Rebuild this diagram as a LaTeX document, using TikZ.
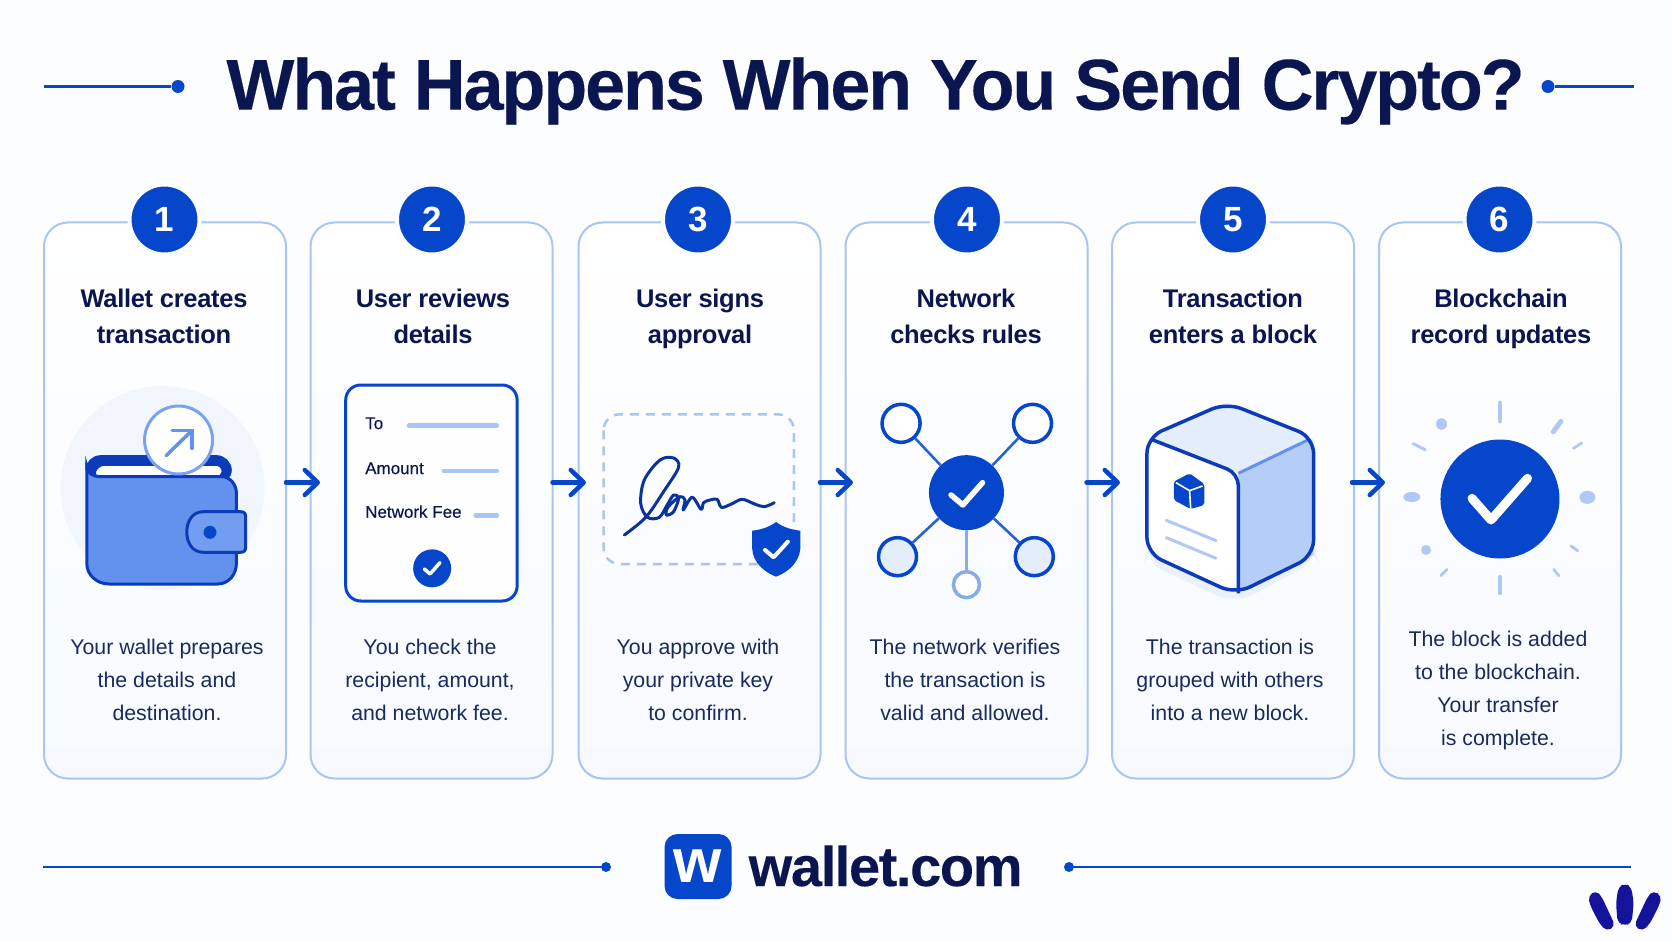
\documentclass[tikz,border=0pt]{standalone}
\usepackage{fontspec}
\setmainfont{Liberation Sans}
\usetikzlibrary{arrows.meta,calc}
\definecolor{bgc}{HTML}{FCFDFF}
\definecolor{navy}{HTML}{0B1650}
\definecolor{bodyc}{HTML}{1A2A5C}
\definecolor{royal}{HTML}{0646CA}
\definecolor{deep}{HTML}{0B3BB8}
\definecolor{edgec}{HTML}{A9C6F2}
\definecolor{pale}{HTML}{AFC8F5}
\definecolor{walletc}{HTML}{6392EE}
\definecolor{petal}{HTML}{15129C}
\definecolor{cardlow}{HTML}{F6FAFF}
\definecolor{halo}{HTML}{F1F6FE}
\definecolor{tintc}{HTML}{E4EDFC}
\definecolor{sidec}{HTML}{B4CEF8}
\definecolor{shadowc}{HTML}{EAF0FC}
\newcommand{\fs}[2]{\fontsize{#1pt}{#2pt}\selectfont}
\tikzset{
  cardbox/.style={rectangle,draw=edgec,line width=2pt,rounded corners=24pt,top color=white,bottom color=cardlow,minimum width=242pt,minimum height=556pt,inner sep=0pt},
  badge/.style={circle,fill=royal,draw=bgc,line width=4pt,minimum size=70pt,inner sep=0pt,text=white,font=\fs{35}{35}\bfseries},
  heading/.style={align=center,text=navy,inner sep=0pt,font=\fs{25.5}{36.5}\bfseries\addfontfeatures{LetterSpace=-1.2},execute at end node=\vphantom{p}},
  bodytext/.style={align=center,text=bodyc,inner sep=0pt,font=\fs{21.3}{32.8},execute at end node=\vphantom{p}},
  flow/.style={draw=royal,line width=4.5pt,line cap=round,-{Straight Barb[length=13pt,width=25pt,round]}},
  rule/.style={draw=royal,line width=2.5pt},
  ruledot/.style={circle,fill=royal,inner sep=0pt},
  zoomA/.style={x=0.35714pt,y=-0.33333pt},
  ray/.style={draw=pale,line cap=round},
  netsat/.style={circle,draw=#1,line width=3.5pt,inner sep=0pt},
  netlink/.style={line width=2.6pt,draw=#1},
  doclabel/.style={anchor=west,inner sep=0pt,text=navy,font=\fs{17}{18}\addfontfeatures{FakeBold=0.35}},
  docline/.style={draw=edgec,line width=4.5pt,line cap=round},
  checkw/.style={draw=white,line cap=round,line join=round},
}
\begin{document}
\begin{tikzpicture}[x=1pt,y=-1pt]
\useasboundingbox (0,0) rectangle (1672,941);
\fill[bgc] (0,0) rectangle (1672,941);
% title
\node[inner sep=0pt,text=navy,font=\fs{72}{72}\bfseries\addfontfeatures{LetterSpace=-3,FakeBold=0.2}] (title) at (875.5,91) {What Happens When You Send Crypto?};
\node[ruledot,minimum size=13pt] (tdl) at (178,86.5) {};
\node[ruledot,minimum size=13pt] (tdr) at (1548,86.5) {};
\coordinate (tl) at (44,86.5); \coordinate (tr) at (1634,86.5);
\draw[rule] (tl) -- (tdl); \draw[rule] (tdr) -- (tr);
% cards
\foreach \n/\cx in {1/165,2/431.5,3/699.5,4/966.5,5/1233,6/1500}
  \node[cardbox] (c\n) at (\cx,500.5) {};
\foreach \n/\bx in {1/164.5,2/432,3/698,4/967,5/1233,6/1499.5}
  \node[badge] (b\n) at (\bx,219.5) {\n};
% headings
\node[heading] (h1) at (164,319) {Wallet creates\\transaction};
\node[heading] (h2) at (433,319) {User reviews\\details};
\node[heading] (h3) at (700,319) {User signs\\approval};
\node[heading] (h4) at (966,319) {Network\\checks rules};
\node[heading] (h5) at (1233,319) {Transaction\\enters a block};
\node[heading] (h6) at (1501,319) {Blockchain\\record updates};
% body text
\node[bodytext] (t1) at (167,682) {Your wallet prepares\\the details and\\destination.};
\node[bodytext] (t2) at (430,682) {You check the\\recipient, amount,\\and network fee.};
\node[bodytext] (t3) at (698,682) {You approve with\\your private key\\to confirm.};
\node[bodytext] (t4) at (965,682) {The network verifies\\the transaction is\\valid and allowed.};
\node[bodytext] (t5) at (1230,682) {The transaction is\\grouped with others\\into a new block.};
\node[bodytext] (t6) at (1498,690.5) {The block is added\\to the blockchain.\\Your transfer\\is complete.};
% flow arrows
\foreach \a/\s/\e in {1/286/320,2/552.5/586,3/820/853,4/1086.5/1120,5/1352/1385}{
  \coordinate (as\a) at (\s,482.5); \coordinate (ae\a) at (\e,482.5);
  \draw[flow] (as\a) -- (ae\a);
}
% wallet and document icons
\begin{scope}[shift={(0,360)},zoomA]
  \fill[halo] (162.5pt,-128pt) circle (102pt);
  % wallet back
  \draw[fill=deep,draw=deep,line width=3pt,rounded corners=14pt] (243,350) -- (243,290) -- (645,290) -- (645,370) -- cycle;
  \draw[fill=white,draw=deep,line width=1pt,rounded corners=6pt] (262,350) -- (275,316) -- (622,316) -- (622,350) -- cycle;
  % wallet body
  \draw[fill=walletc,draw=deep,line width=3pt] (243,320) to[out=-90,in=180] (280,350) -- (620,350) to[out=0,in=90] (662,400) -- (662,610) to[out=-90,in=0] (610,672) -- (305,672) to[out=180,in=-90] (243,610) -- cycle;
  % clasp
  \draw[fill=walletc!90!white,draw=deep,line width=3pt] (570,455) -- (672,455) .. controls (684,455) and (688,460) .. (688,472) -- (688,560) .. controls (688,572) and (684,577) .. (672,577) -- (570,577) .. controls (538,577) and (523,548) .. (523,516) .. controls (523,484) and (538,455) .. (570,455) -- cycle;
  \fill[royal] (588,517) circle (6.5pt);
  % coin
  \node[circle,fill=white,draw=walletc!85!white,line width=3pt,minimum size=68pt,inner sep=0pt] (coin) at (500,240) {};
  \coordinate (ca) at (465,287); \coordinate (cb) at (537,212);
  \draw[draw=walletc,line width=3.5pt,line cap=round] (ca) -- (cb);
  \draw[draw=walletc,line width=3.5pt,line cap=round,line join=miter] (482,212) -- (537,212) -- (537,265);
  % document
  \draw[draw=royal,fill=white!50!bgc,line width=3pt,rounded corners=15pt] (968,75) rectangle (1448,723);
  \node[doclabel] (dto) at (1022,190) {To};
  \node[doclabel] (dam) at (1022,325) {Amount};
  \node[doclabel] (dfe) at (1022,455) {Network Fee};
  \draw[docline] (1145,197) -- (1391,197);
  \draw[docline] (1243,333) -- (1391,333);
  \draw[docline] (1332,466) -- (1391,466);
  \fill[royal] (1210,625) circle (19pt);
  \draw[checkw,line width=3.5pt] (1188,627) -- (1204,642) -- (1232,608);
\end{scope}
% signature icon
\begin{scope}[shift={(560,380)},zoomA]
  \draw[draw=edgec,line width=2.5pt,rounded corners=16pt,dash pattern=on 9pt off 7pt] (122,103) rectangle (655,552);
  \draw[draw=deep!85!black,line width=3pt,line cap=round,line join=round] plot[smooth,tension=0.55] coordinates {(180,465) (240,412) (290,335) (332,262) (318,234) (280,240) (236,300) (226,370) (245,412) (278,412) (300,375) (318,345) (332,355) (318,395) (298,405) (302,382) (335,350) (350,360) (345,390) (370,352) (395,388) (402,368) (420,360) (440,358) (452,382) (480,372) (510,358) (545,372) (572,380) (600,368)};
  % shield
  \fill[royal] (605,426) .. controls (625,442) and (650,450) .. (673,452) -- (673,505) .. controls (670,550) and (635,578) .. (605,590) .. controls (575,578) and (540,550) .. (538,505) -- (538,452) .. controls (560,450) and (585,442) .. (605,426) -- cycle;
  \draw[checkw,line width=4pt] (574,510) -- (598,532) -- (638,485);
  % network
  \node[circle,fill=royal,minimum size=75pt,inner sep=0pt] (n0) at (1138,338) {};
  \node[netsat=royal,fill=white,minimum size=38pt] (n1) at (955,130) {};
  \node[netsat=royal,fill=white,minimum size=38pt] (n2) at (1323,130) {};
  \node[netsat=royal,fill=tintc,minimum size=38pt] (n3) at (945,530) {};
  \node[netsat=royal,fill=tintc,minimum size=38pt] (n4) at (1328,530) {};
  \node[netsat=edgec!80!royal,fill=white,minimum size=26pt] (n5) at (1138,614) {};
  \draw[netlink=royal!85!white] (n0) -- (n1);
  \draw[netlink=royal!85!white] (n0) -- (n2);
  \draw[netlink=royal!85!white] (n0) -- (n3);
  \draw[netlink=royal!85!white] (n0) -- (n4);
  \draw[netlink=edgec!80!royal] (n0) -- (n5);
  \draw[checkw,line width=5.5pt] (1095,345) -- (1128,375) -- (1183,308);
\end{scope}
% block and check icons
\begin{scope}[shift={(1110,380)},x=0.35842pt,y=-0.33333pt]
  \fill[shadowc,rounded corners=20pt] (95,545) -- (350,672) -- (580,540) -- (570,500) -- (110,500) -- cycle;
  \fill[tintc] (110,178) -- (325,68) -- (565,178) -- (358,280) -- cycle;
  \fill[sidec] (358,280) -- (565,178) -- (568,525) -- (358,638) -- cycle;
  \fill[white,rounded corners=14pt] (103,175) -- (358,280) -- (358,642) -- (103,520) -- cycle;
  \draw[draw=walletc,line width=3pt] (358,280) -- (556,178);
  \draw[draw=deep,line width=3.5pt,rounded corners=12pt] (115,178) -- (358,280) -- (358,640);
  \draw[draw=deep,line width=3.5pt,rounded corners=16pt] (325,68) -- (568,172) -- (568,528) -- (350,642) -- (103,520) -- (103,172) -- cycle;
  % small cube
  \fill[royal,rounded corners=2pt] (222,280) -- (263,312) -- (263,375) -- (225,387) -- (178,360) -- (178,305) -- cycle;
  \draw[white,line width=1.6pt] (184,308) -- (222,332) -- (258,318) (222,332) -- (225,385);
  \draw[draw=pale,line width=3pt,line cap=round] (157,421) -- (296,482);
  \draw[draw=pale,line width=3pt,line cap=round] (157,473) -- (296,535);
  % big check
  \fill[royal] (1088,357) circle (59.5pt);
  \draw[checkw,line width=9pt] (1010,355) -- (1063,420) -- (1165,295);
  % rays
  \draw[ray,line width=3.5pt] (1088,67) -- (1088,125);
  \draw[ray,line width=5pt] (1237,155) -- (1258,124);
  \draw[ray,line width=2.8pt] (1293,205) -- (1316,189);
  \fill[pale] (1332,352) ellipse (8pt and 6.5pt);
  \draw[ray,line width=2.8pt] (1286,498) -- (1305,512);
  \draw[ray,line width=2.8pt] (1238,568) -- (1252,587);
  \draw[ray,line width=3.5pt] (1088,590) -- (1088,640);
  \draw[ray,line width=2.8pt] (923,587) -- (940,568);
  \fill[pale] (882,510) circle (5pt);
  \fill[pale] (842,351) ellipse (8.5pt and 5pt);
  \draw[ray,line width=3pt] (846,191) -- (879,209);
  \fill[pale] (925,132) ellipse (5.5pt and 6pt);
\end{scope}
% footer
\node[ruledot,minimum size=10pt] (fdl) at (606,867) {};
\node[ruledot,minimum size=10pt] (fdr) at (1069,867) {};
\coordinate (fl) at (43,867); \coordinate (fr) at (1631,867);
\draw[rule] (fl) -- (fdl); \draw[rule] (fdr) -- (fr);
\node[rectangle,fill=royal,rounded corners=13pt,minimum width=67pt,minimum height=65pt,inner sep=0pt,text=white,font=\fs{62}{62}\bfseries] (logo) at (698,866.5) {w};
\node[anchor=west,inner sep=0pt,text=navy,font=\fs{56}{56}\bfseries\addfontfeatures{LetterSpace=-2.5,FakeBold=0.15}] (brand) at (748.5,866) {wallet.com};
% corner mark
\begin{scope}[shift={(1560,870)},x=0.33333pt,y=-0.33333pt]
  \fill[petal,rounded corners=5pt] (175,50) -- (195,41) -- (214,50) -- (221,100) -- (215,160) -- (195,166) -- (173,160) -- (168,100) -- cycle;
  \fill[petal,rounded corners=5pt] (84,78) -- (108,61) -- (125,80) -- (166,168) -- (140,184) -- (118,160) -- (90,105) -- cycle;
  \fill[petal,rounded corners=5pt] (305,78) -- (280,61) -- (263,80) -- (222,168) -- (248,184) -- (270,160) -- (298,105) -- cycle;
\end{scope}
\end{tikzpicture}
\end{document}
